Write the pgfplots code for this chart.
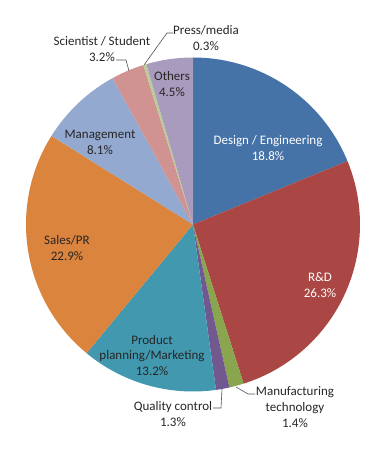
\documentclass[border=0pt]{standalone}
\usepackage{pgfplots}
\pgfplotsset{compat=1.18}
\usepackage{pgfplotstable}
\usepackage{fontspec}
\setmainfont{Carlito}
\definecolor{cDesign}{HTML}{4572A7}
\definecolor{cRD}{HTML}{AA4643}
\definecolor{cManuf}{HTML}{89A54E}
\definecolor{cQual}{HTML}{71588F}
\definecolor{cProd}{HTML}{4198AF}
\definecolor{cSales}{HTML}{DB843D}
\definecolor{cMgmt}{HTML}{93A9CF}
\definecolor{cSci}{HTML}{D19392}
\definecolor{cPress}{HTML}{B9CD96}
\definecolor{cOther}{HTML}{A99BBD}
\definecolor{txt}{HTML}{262626}
\pgfplotstableread{
value col
18.8 cDesign
26.3 cRD
1.4 cManuf
1.3 cQual
13.2 cProd
22.9 cSales
8.1 cMgmt
3.2 cSci
0.3 cPress
4.5 cOther
}\piedata
\begin{document}
\begin{tikzpicture}
\begin{axis}[x=1pt,y=1pt,xmin=0,xmax=390,ymin=0,ymax=450,
  hide axis, clip=false, scale only axis]
\path (axis cs:0,0) rectangle (axis cs:390,450);
\def\slicecum{0}
\pgfplotsforeachungrouped \i in {0,...,9}{%
  \pgfplotstablegetelem{\i}{value}\of\piedata \let\sliceval\pgfplotsretval
  \pgfplotstablegetelem{\i}{col}\of\piedata \let\slicecol\pgfplotsretval
  \pgfmathsetmacro\sliceA{90-3.6*\slicecum}%
  \pgfmathsetmacro\slicecum{\slicecum+\sliceval}%
  \pgfmathsetmacro\sliceB{90-3.6*\slicecum}%
  \edef\temp{\noexpand\fill[fill=\slicecol] (axis cs:193,225.5) -- ++(\sliceA:167pt) arc[start angle=\sliceA, end angle=\sliceB, radius=167pt] -- cycle;}%
  \temp
}
% leader lines
\addplot[color=txt!80, line width=0.6pt, mark=none] coordinates {(116,390) (126,390) (129,379)};
\addplot[color=txt!80, line width=0.6pt, mark=none] coordinates {(173,417) (167,417) (144,385)};
\addplot[color=txt!80, line width=0.6pt, mark=none] coordinates {(213,42) (221,42) (222,61)};
\addplot[color=txt!80, line width=0.6pt, mark=none] coordinates {(255,56) (248,56) (236,63)};
% labels
\tikzset{lab/.style={align=center, inner sep=0pt, font=\fontsize{13}{16}\selectfont, text=txt}}
\node[lab] at (axis cs:172,366) {Others\\4.5\%};
\node[lab, text=white] at (axis cs:268,301.5) {Design / Engineering\\18.8\%};
\node[lab, text=white] at (axis cs:320,165) {R\&D\\26.3\%};
\node[lab] at (axis cs:67,202) {Sales/PR\\22.9\%};
\node[lab] at (axis cs:100,308) {Management\\8.1\%};
\node[lab, font=\fontsize{13}{15.5}\selectfont] at (axis cs:152,94.5) {Product\\planning/Marketing\\13.2\%};
\node[lab] at (axis cs:173,36) {Quality control\\1.3\%};
\node[lab] at (axis cs:295,43) {Manufacturing\\technology\\1.4\%};
\node[lab] at (axis cs:102,400.5) {Scientist / Student\\3.2\%};
\node[lab] at (axis cs:206,411.5) {Press/media\\0.3\%};
\end{axis}
\end{tikzpicture}
\end{document}
